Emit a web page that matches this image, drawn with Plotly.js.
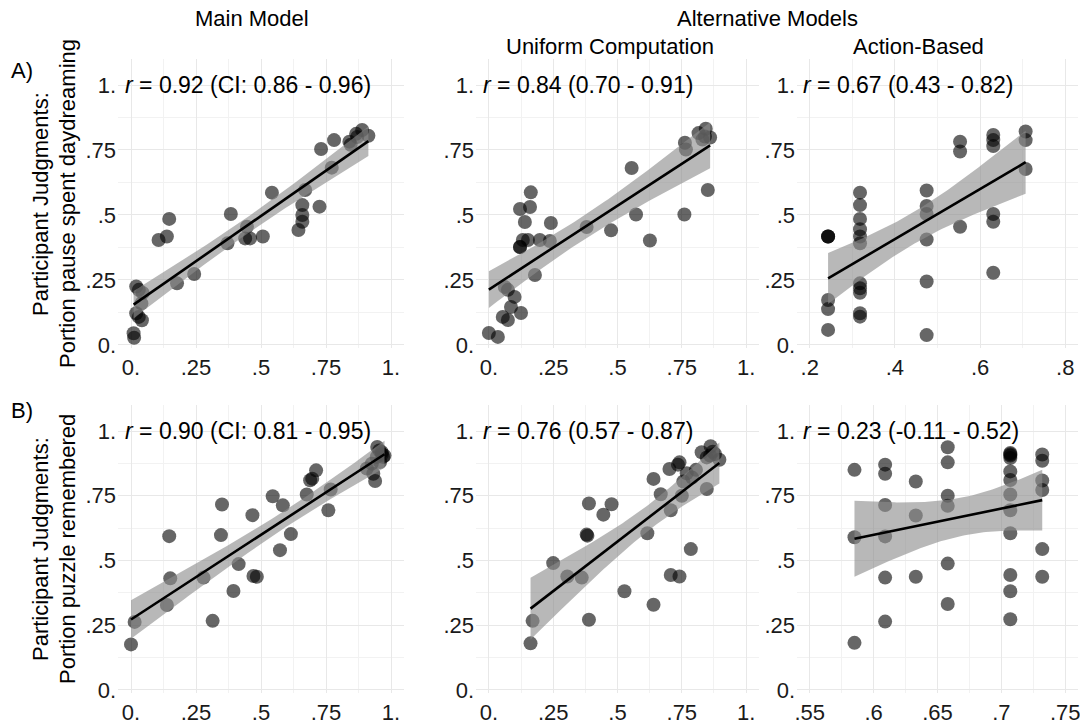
<!DOCTYPE html>
<html>
<head>
<meta charset="utf-8">
<script src="https://cdn.plot.ly/plotly-3.0.1.min.js"></script>
<style>html,body{margin:0;padding:0;background:#fff;}#chart{width:1080px;height:728px;}</style>
</head>
<body>
<div id="chart"></div>
<script>
// ---------- DATA ----------
// Row A: portion of pause spent daydreaming (participant judgments)
const mainDayX = [0.010,0.012,0.020,0.030,0.045,0.040,0.020,0.030,0.042,0.106,0.138,0.147,0.177,0.243,0.371,0.384,0.446,0.439,0.458,0.507,0.542,0.644,0.659,0.659,0.670,0.659,0.725,0.731,0.772,0.781,0.840,0.845,0.866,0.889,0.913,0.870];
const mainDayY = [0.045,0.028,0.225,0.212,0.200,0.160,0.122,0.108,0.095,0.404,0.417,0.485,0.237,0.273,0.391,0.504,0.455,0.410,0.410,0.417,0.586,0.442,0.500,0.538,0.596,0.474,0.532,0.754,0.682,0.788,0.782,0.770,0.812,0.827,0.805,0.800];

const unifDayX = [0.000,0.035,0.054,0.074,0.062,0.074,0.100,0.086,0.125,0.179,0.121,0.163,0.121,0.160,0.140,0.241,0.132,0.152,0.198,0.237,0.121,0.380,0.475,0.555,0.572,0.626,0.760,0.762,0.766,0.815,0.840,0.843,0.860,0.851,0.830];
const unifDayY = [0.046,0.031,0.108,0.096,0.223,0.212,0.185,0.146,0.123,0.269,0.377,0.587,0.523,0.531,0.473,0.469,0.404,0.404,0.404,0.400,0.377,0.454,0.441,0.681,0.502,0.402,0.502,0.778,0.752,0.815,0.802,0.832,0.798,0.596,0.790];

const actDayX = [0.243,0.243,0.243,0.243,0.243,0.243,
                 0.318,0.318,0.318,0.318,0.318,0.318,0.318,0.318,0.318,0.318,0.318,
                 0.4745,0.4745,0.4745,0.4745,0.4745,0.4745,
                 0.553,0.553,0.553,
                 0.631,0.631,0.631,0.631,0.631,0.631,
                 0.707,0.707,0.707];
const actDayY = [0.417,0.417,0.417,0.173,0.138,0.058,
                 0.586,0.538,0.485,0.445,0.417,0.391,0.237,0.218,0.201,0.122,0.109,
                 0.594,0.535,0.504,0.406,0.244,0.038,
                 0.782,0.744,0.455,
                 0.808,0.788,0.765,0.504,0.474,0.278,
                 0.821,0.788,0.677];

// Row B: portion of puzzle remembered (participant judgments)
const mainRemX = [0.000,0.014,0.147,0.151,0.138,0.279,0.314,0.350,0.346,0.394,0.414,0.467,0.471,0.484,0.545,0.584,0.573,0.615,0.676,0.689,0.697,0.712,0.759,0.768,0.907,0.932,0.939,0.947,0.945,0.964,0.970,0.958,0.926,0.965,0.955,0.975];
const mainRemY = [0.176,0.263,0.594,0.431,0.328,0.434,0.267,0.716,0.598,0.382,0.486,0.675,0.440,0.437,0.748,0.713,0.540,0.602,0.755,0.810,0.816,0.848,0.694,0.774,0.855,0.835,0.807,0.938,0.900,0.919,0.900,0.880,0.874,0.910,0.925,0.905];

const unifRemX = [0.162,0.170,0.250,0.305,0.361,0.380,0.383,0.389,0.389,0.445,0.477,0.527,0.616,0.640,0.640,0.668,0.707,0.707,0.741,0.702,0.741,0.735,0.750,0.756,0.769,0.785,0.805,0.790,0.847,0.827,0.847,0.862,0.879,0.896,0.860,0.870];
const unifRemY = [0.180,0.267,0.490,0.438,0.434,0.600,0.596,0.720,0.271,0.677,0.717,0.381,0.605,0.815,0.329,0.756,0.694,0.444,0.438,0.853,0.879,0.870,0.750,0.805,0.837,0.544,0.850,0.820,0.776,0.918,0.898,0.941,0.911,0.889,0.905,0.920];

const actRemX = [0.585,0.585,0.585,
                 0.609,0.609,0.609,0.609,0.609,0.609,
                 0.633,0.633,0.633,
                 0.658,0.658,0.658,0.658,0.658,0.658,
                 0.707,0.707,0.707,0.707,0.707,0.707,0.707,0.707,0.707,0.707,0.707,0.707,
                 0.732,0.732,0.732,0.732,0.732,0.732];
const actRemY = [0.850,0.590,0.182,
                 0.870,0.835,0.714,0.593,0.434,0.264,
                 0.805,0.674,0.4375,
                 0.9375,0.879,0.750,0.711,0.488,0.332,
                 0.915,0.905,0.896,0.844,0.811,0.755,0.694,0.605,0.444,0.381,0.273,0.910,
                 0.909,0.885,0.809,0.772,0.544,0.4375];

// correlation labels
const rLabels = [
  "<i>r</i> = 0.92 (CI: 0.86 - 0.96)", "<i>r</i> = 0.84 (0.70 - 0.91)", "<i>r</i> = 0.67 (0.43 - 0.82)",
  "<i>r</i> = 0.90 (CI: 0.81 - 0.95)", "<i>r</i> = 0.76 (0.57 - 0.87)", "<i>r</i> = 0.23 (-0.11 - 0.52)"
];

// tick labels
const unitTickVals = [0, 0.25, 0.5, 0.75, 1];
const unitTickText = ["0.", ".25", ".5", ".75", "1."];
const unitMinor = [0.125, 0.375, 0.625, 0.875];
const actDayTickVals = [0.2, 0.4, 0.6, 0.8];
const actDayTickText = [".2", ".4", ".6", ".8"];
const actDayMinor = [0.3, 0.5, 0.7];
const actRemTickVals = [0.55, 0.6, 0.65, 0.7, 0.75];
const actRemTickText = [".55", ".6", ".65", ".7", ".75"];
const actRemMinor = [0.575, 0.625, 0.675, 0.725];

// headers
const colHeaders = ["Main Model", "Alternative Models", "Uniform Computation", "Action-Based"];
const rowLetters = ["A)", "B)"];
const yTitleTop = ["Participant Judgments:", "Portion pause spent daydreaming"];
const yTitleBottom = ["Participant Judgments:", "Portion puzzle remembered"];

// ---------- LAYOUT / DRAWING ----------
const W = 1080, H = 728;
const FONT = "Liberation Sans, Arimo, Helvetica, Arial, sans-serif";
const px2x = p => p / W;
const px2y = p => 1 - p / H;

const cols = [[118, 404], [476, 759], [797, 1078]];
const rows = [[59, 348.1], [405.1, 693.1]];

const panels = [
  {x: mainDayX, y: mainDayY, r: 0, c: 0, xr: [-0.05, 1.05], tv: unitTickVals, tt: unitTickText, mn: unitMinor},
  {x: unifDayX, y: unifDayY, r: 0, c: 1, xr: [-0.05, 1.05], tv: unitTickVals, tt: unitTickText, mn: unitMinor},
  {x: actDayX,  y: actDayY,  r: 0, c: 2, xr: [0.17, 0.83],   tv: actDayTickVals, tt: actDayTickText, mn: actDayMinor},
  {x: mainRemX, y: mainRemY, r: 1, c: 0, xr: [-0.05, 1.05], tv: unitTickVals, tt: unitTickText, mn: unitMinor},
  {x: unifRemX, y: unifRemY, r: 1, c: 1, xr: [-0.05, 1.05], tv: unitTickVals, tt: unitTickText, mn: unitMinor},
  {x: actRemX,  y: actRemY,  r: 1, c: 2, xr: [0.54, 0.76],   tv: actRemTickVals, tt: actRemTickText, mn: actRemMinor}
];

function tQuant(df) {
  const z = 1.959964;
  return z + (z*z*z + z) / (4*df) + (5*Math.pow(z,5) + 16*z*z*z + 3*z) / (96*df*df)
    + (3*Math.pow(z,7) + 19*Math.pow(z,5) + 17*z*z*z - 15*z) / (384*df*df*df);
}

function lmFit(xs, ys) {
  const n = xs.length;
  const mx = xs.reduce((a, b) => a + b, 0) / n;
  const my = ys.reduce((a, b) => a + b, 0) / n;
  let sxx = 0, sxy = 0;
  for (let i = 0; i < n; i++) { sxx += (xs[i]-mx)*(xs[i]-mx); sxy += (xs[i]-mx)*(ys[i]-my); }
  const b = sxy / sxx, a = my - b*mx;
  let sse = 0;
  for (let i = 0; i < n; i++) { const e = ys[i] - (a + b*xs[i]); sse += e*e; }
  const s = Math.sqrt(sse / (n - 2));
  const t = tQuant(n - 2);
  const lo = Math.min(...xs), hi = Math.max(...xs);
  const gx = [], gy = [], gl = [], gh = [];
  const N = 80;
  for (let k = 0; k <= N; k++) {
    const x = lo + (hi - lo) * k / N;
    const yh = a + b*x;
    const se = s * Math.sqrt(1/n + (x-mx)*(x-mx)/sxx);
    gx.push(x); gy.push(yh); gl.push(yh - t*se); gh.push(yh + t*se);
  }
  return {gx, gy, gl, gh};
}

const traces = [];
const layout = {
  width: W, height: H,
  margin: {l: 0, r: 0, t: 0, b: 0},
  paper_bgcolor: "#ffffff", plot_bgcolor: "#ffffff",
  showlegend: false,
  font: {family: FONT, size: 22, color: "#000000"},
  annotations: []
};

panels.forEach((p, i) => {
  const k = i + 1;
  const xa = "x" + (k === 1 ? "" : k), ya = "y" + (k === 1 ? "" : k);
  const fit = lmFit(p.x, p.y);
  traces.push({
    type: "scatter", mode: "markers", x: p.x, y: p.y, xaxis: xa, yaxis: ya,
    marker: {color: "rgba(0,0,0,0.6)", size: 14, line: {width: 0}}, hoverinfo: "skip"
  });
  traces.push({
    type: "scatter", mode: "lines", xaxis: xa, yaxis: ya,
    x: fit.gx.concat(fit.gx.slice().reverse()),
    y: fit.gh.concat(fit.gl.slice().reverse()),
    fill: "toself", fillcolor: "rgba(140,140,140,0.62)", line: {width: 0}, hoverinfo: "skip"
  });
  traces.push({
    type: "scatter", mode: "lines", xaxis: xa, yaxis: ya, x: fit.gx, y: fit.gy,
    line: {color: "#000000", width: 2.6}, hoverinfo: "skip"
  });
  const col = cols[p.c], row = rows[p.r];
  const axCommon = {
    showline: false, zeroline: false, ticks: "", ticklen: 0,
    gridcolor: "#e8e8e8", gridwidth: 1,
    tickfont: {family: FONT, size: 22, color: "#1a1a1a"},
    ticklabeloverflow: "allow",
    fixedrange: true
  };
  layout["xaxis" + (k === 1 ? "" : k)] = Object.assign({}, axCommon, {
    domain: [px2x(col[0]), px2x(col[1])], anchor: ya, range: p.xr,
    tickmode: "array", tickvals: p.tv, ticktext: p.tt, ticklabelstandoff: 4,
    minor: {tickmode: "array", tickvals: p.mn, showgrid: true, gridcolor: "#f2f2f2", gridwidth: 1, ticks: ""}
  });
  layout["yaxis" + (k === 1 ? "" : k)] = Object.assign({}, axCommon, {
    domain: [px2y(row[1]), px2y(row[0])], anchor: xa, range: [-0.012, 1.1],
    tickmode: "array", tickvals: unitTickVals, ticktext: unitTickText, ticklabelstandoff: 1,
    minor: {tickmode: "array", tickvals: unitMinor, showgrid: true, gridcolor: "#f2f2f2", gridwidth: 1, ticks: ""}
  });
  layout.annotations.push({
    text: rLabels[i], xref: xa + " domain", yref: ya, x: 0.016, y: 1.0,
    xanchor: "left", yanchor: "middle", showarrow: false,
    font: {family: FONT, size: 23, color: "#000000"}
  });
});

function paperText(text, xpx, ypx, opts) {
  layout.annotations.push(Object.assign({
    text: text, xref: "paper", yref: "paper", x: px2x(xpx), y: px2y(ypx),
    xanchor: "center", yanchor: "middle", showarrow: false,
    font: {family: FONT, size: 22, color: "#000000"}
  }, opts || {}));
}

paperText(colHeaders[0], 252, 18);
paperText(colHeaders[1], 767, 18);
paperText(colHeaders[2], 610, 47);
paperText(colHeaders[3], 918, 47);
paperText(rowLetters[0], 22, 70);
paperText(rowLetters[1], 22, 410);
paperText(yTitleTop[0], 40, 204, {textangle: -90});
paperText(yTitleTop[1], 67, 204, {textangle: -90});
paperText(yTitleBottom[0], 40, 549, {textangle: -90});
paperText(yTitleBottom[1], 67, 549, {textangle: -90});

Plotly.newPlot("chart", traces, layout, {displayModeBar: false, staticPlot: true});
</script>
</body>
</html>
